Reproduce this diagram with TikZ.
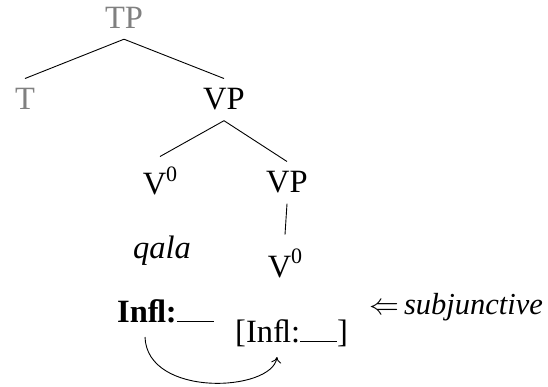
\documentclass[tikz,border=0pt]{standalone}
\usepackage{graphicx}
\usepackage{fontspec}
\setmainfont{Liberation Serif}[ItalicFont={Liberation Serif Italic},BoldFont={Liberation Serif Bold}]
\usetikzlibrary{arrows.meta}
\definecolor{tgray}{HTML}{808080}
\newcommand{\supzero}{\raisebox{0.42em}{\fontsize{22}{26}\selectfont 0}}
\newcommand{\Infl}{In^^^^fb02}
\begin{document}
\begin{tikzpicture}[x=1pt,y=-1pt,
  lab/.style={font=\fontsize{32.5}{38}\selectfont, anchor=base, inner sep=10pt},
  grey/.style={text=tgray},
  edge/.style={line width=0.9pt}]
\useasboundingbox (0,0) rectangle (548,387);
\node[lab,grey] (TP) at (124,29) {TP};
\node[lab,grey] (T) at (25,110) {T};
\node[lab] (VP1) at (224,110) {VP};
\node[lab] (V0a) at (160,195) {V\supzero};
\node[lab] (VP2) at (287,193) {VP};
\node[lab] (qala) at (162,258) {\textit{qala}};
\node[lab] (V0b) at (285,277) {V\supzero};
\node[lab,anchor=base west,inner sep=0pt] (infl) at (117,322) {\textbf{\Infl:}\rule[0pt]{37pt}{0.9pt}};
\node[lab,anchor=base west,inner sep=0pt] (brk) at (235,342) {[\Infl:\rule[0pt]{37pt}{0.9pt}]};
\node[lab,anchor=base west,inner sep=0pt,font=\fontsize{30.5}{36}\selectfont] (subj) at (369,314) {\scalebox{1.2}{$\Leftarrow$}\hspace{5pt}\textit{subjunctive}};
\draw[edge] (TP.south) -- (T.north);
\draw[edge] (TP.south) -- (VP1.north);
\draw[edge] (VP1.south) -- (V0a.north);
\draw[edge] (VP1.south) -- (VP2.north);
\draw[edge] (VP2.south) -- ([yshift=4pt]V0b.north);
\draw[edge,-{To[length=6pt,width=10pt]}] ([xshift=28pt,yshift=-15pt]infl.base west) .. controls (147,398) and (272,392) .. ([xshift=42pt,yshift=-15pt]brk.base west);
\end{tikzpicture}
\end{document}
